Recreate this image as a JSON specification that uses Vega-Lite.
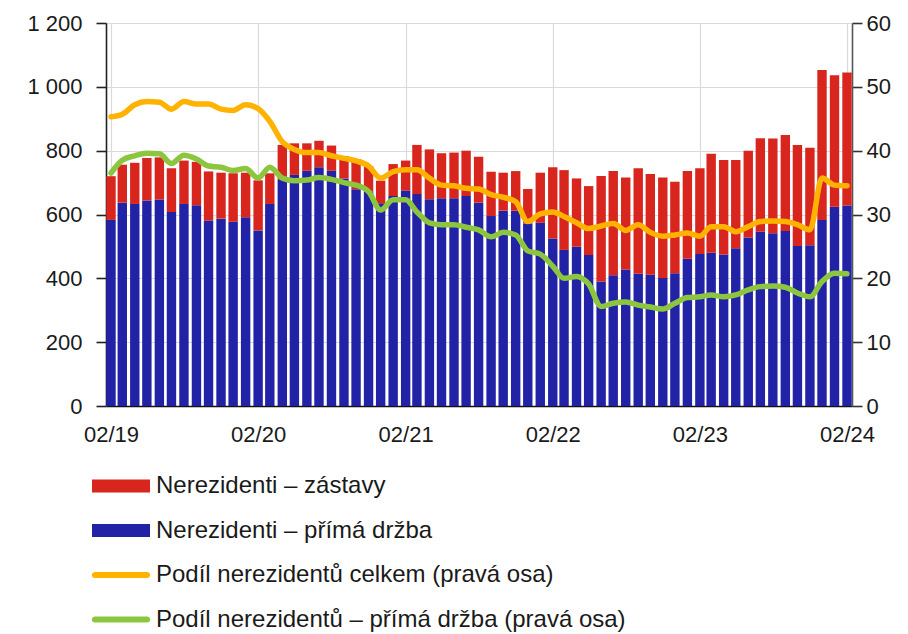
{
  "$schema": "https://vega.github.io/schema/vega-lite/v6.json",
  "width": 746,
  "height": 383,
  "autosize": {"type": "none"},
  "padding": {"left": 106, "top": 23, "right": 56, "bottom": 228},
  "background": "white",
  "config": {
    "view": {"stroke": null},
    "font": "Liberation Sans",
    "axis": {"labelFont": "Liberation Sans", "labelFontSize": 22, "labelColor": "#1a1a1a", "gridColor": "#dadada", "gridWidth": 1.2, "title": null}
  },
  "data": {"values": [
    {"d": "2019-02-01", "prima": 583, "celkem": 720, "podil_celkem": 45.3, "podil_prima": 36.5},
    {"d": "2019-03-01", "prima": 637, "celkem": 756, "podil_celkem": 45.7, "podil_prima": 38.5},
    {"d": "2019-04-01", "prima": 633, "celkem": 762, "podil_celkem": 47.2, "podil_prima": 39.2},
    {"d": "2019-05-01", "prima": 644, "celkem": 777, "podil_celkem": 47.7, "podil_prima": 39.6},
    {"d": "2019-06-01", "prima": 647, "celkem": 779, "podil_celkem": 47.6, "podil_prima": 39.5},
    {"d": "2019-07-01", "prima": 608, "celkem": 745, "podil_celkem": 46.5, "podil_prima": 38.0},
    {"d": "2019-08-01", "prima": 633, "celkem": 769, "podil_celkem": 47.7, "podil_prima": 39.3},
    {"d": "2019-09-01", "prima": 629, "celkem": 765, "podil_celkem": 47.3, "podil_prima": 38.7},
    {"d": "2019-10-01", "prima": 581, "celkem": 735, "podil_celkem": 47.3, "podil_prima": 37.6},
    {"d": "2019-11-01", "prima": 587, "celkem": 731, "podil_celkem": 46.5, "podil_prima": 37.4},
    {"d": "2019-12-01", "prima": 577, "celkem": 729, "podil_celkem": 46.3, "podil_prima": 36.9},
    {"d": "2020-01-01", "prima": 591, "celkem": 731, "podil_celkem": 47.2, "podil_prima": 37.2},
    {"d": "2020-02-01", "prima": 550, "celkem": 707, "podil_celkem": 46.6, "podil_prima": 35.7},
    {"d": "2020-03-01", "prima": 633, "celkem": 729, "podil_celkem": 44.6, "podil_prima": 37.4},
    {"d": "2020-04-01", "prima": 708, "celkem": 818, "podil_celkem": 41.4, "podil_prima": 35.7},
    {"d": "2020-05-01", "prima": 724, "celkem": 823, "podil_celkem": 40.2, "podil_prima": 35.3},
    {"d": "2020-06-01", "prima": 737, "celkem": 823, "podil_celkem": 39.7, "podil_prima": 35.4},
    {"d": "2020-07-01", "prima": 748, "celkem": 831, "podil_celkem": 39.7, "podil_prima": 35.8},
    {"d": "2020-08-01", "prima": 737, "celkem": 816, "podil_celkem": 39.2, "podil_prima": 35.5},
    {"d": "2020-09-01", "prima": 713, "celkem": 783, "podil_celkem": 38.8, "podil_prima": 35.0},
    {"d": "2020-10-01", "prima": 679, "celkem": 774, "podil_celkem": 38.4, "podil_prima": 34.6},
    {"d": "2020-11-01", "prima": 671, "celkem": 752, "podil_celkem": 37.6, "podil_prima": 33.6},
    {"d": "2020-12-01", "prima": 635, "celkem": 706, "podil_celkem": 35.7, "podil_prima": 30.7},
    {"d": "2021-01-01", "prima": 658, "celkem": 758, "podil_celkem": 36.7, "podil_prima": 32.3},
    {"d": "2021-02-01", "prima": 675, "celkem": 769, "podil_celkem": 37.0, "podil_prima": 32.3},
    {"d": "2021-03-01", "prima": 664, "celkem": 818, "podil_celkem": 37.0, "podil_prima": 30.4},
    {"d": "2021-04-01", "prima": 648, "celkem": 804, "podil_celkem": 35.7, "podil_prima": 28.7},
    {"d": "2021-05-01", "prima": 651, "celkem": 792, "podil_celkem": 34.6, "podil_prima": 28.4},
    {"d": "2021-06-01", "prima": 651, "celkem": 794, "podil_celkem": 34.5, "podil_prima": 28.4},
    {"d": "2021-07-01", "prima": 658, "celkem": 800, "podil_celkem": 34.1, "podil_prima": 28.0},
    {"d": "2021-08-01", "prima": 637, "celkem": 781, "podil_celkem": 34.0, "podil_prima": 27.6},
    {"d": "2021-09-01", "prima": 595, "celkem": 734, "podil_celkem": 33.1, "podil_prima": 26.5},
    {"d": "2021-10-01", "prima": 612, "celkem": 731, "podil_celkem": 32.7, "podil_prima": 27.2},
    {"d": "2021-11-01", "prima": 612, "celkem": 736, "podil_celkem": 32.0, "podil_prima": 26.8},
    {"d": "2021-12-01", "prima": 572, "celkem": 680, "podil_celkem": 28.9, "podil_prima": 24.3},
    {"d": "2022-01-01", "prima": 574, "celkem": 731, "podil_celkem": 30.1, "podil_prima": 23.8},
    {"d": "2022-02-01", "prima": 525, "celkem": 748, "podil_celkem": 30.4, "podil_prima": 21.9},
    {"d": "2022-03-01", "prima": 489, "celkem": 739, "podil_celkem": 29.7, "podil_prima": 20.0},
    {"d": "2022-04-01", "prima": 499, "celkem": 713, "podil_celkem": 28.7, "podil_prima": 20.3},
    {"d": "2022-05-01", "prima": 473, "celkem": 689, "podil_celkem": 27.8, "podil_prima": 19.1},
    {"d": "2022-06-01", "prima": 390, "celkem": 721, "podil_celkem": 28.2, "podil_prima": 15.6},
    {"d": "2022-07-01", "prima": 410, "celkem": 736, "podil_celkem": 28.6, "podil_prima": 16.1},
    {"d": "2022-08-01", "prima": 428, "celkem": 716, "podil_celkem": 27.5, "podil_prima": 16.3},
    {"d": "2022-09-01", "prima": 414, "celkem": 745, "podil_celkem": 28.4, "podil_prima": 15.8},
    {"d": "2022-10-01", "prima": 411, "celkem": 727, "podil_celkem": 27.2, "podil_prima": 15.5},
    {"d": "2022-11-01", "prima": 401, "celkem": 716, "podil_celkem": 26.6, "podil_prima": 15.2},
    {"d": "2022-12-01", "prima": 416, "celkem": 703, "podil_celkem": 26.8, "podil_prima": 16.1},
    {"d": "2023-01-01", "prima": 461, "celkem": 736, "podil_celkem": 27.1, "podil_prima": 17.0},
    {"d": "2023-02-01", "prima": 476, "celkem": 745, "podil_celkem": 26.6, "podil_prima": 17.1},
    {"d": "2023-03-01", "prima": 480, "celkem": 790, "podil_celkem": 28.1, "podil_prima": 17.4},
    {"d": "2023-04-01", "prima": 475, "celkem": 771, "podil_celkem": 28.1, "podil_prima": 17.1},
    {"d": "2023-05-01", "prima": 494, "celkem": 771, "podil_celkem": 27.3, "podil_prima": 17.4},
    {"d": "2023-06-01", "prima": 528, "celkem": 800, "podil_celkem": 28.1, "podil_prima": 18.2},
    {"d": "2023-07-01", "prima": 546, "celkem": 839, "podil_celkem": 28.9, "podil_prima": 18.7},
    {"d": "2023-08-01", "prima": 541, "celkem": 838, "podil_celkem": 29.0, "podil_prima": 18.8},
    {"d": "2023-09-01", "prima": 548, "celkem": 849, "podil_celkem": 28.9, "podil_prima": 18.6},
    {"d": "2023-10-01", "prima": 501, "celkem": 818, "podil_celkem": 28.4, "podil_prima": 17.7},
    {"d": "2023-11-01", "prima": 504, "celkem": 809, "podil_celkem": 27.6, "podil_prima": 17.1},
    {"d": "2023-12-01", "prima": 583, "celkem": 1053, "podil_celkem": 35.7, "podil_prima": 19.5},
    {"d": "2024-01-01", "prima": 624, "celkem": 1036, "podil_celkem": 34.6, "podil_prima": 20.8},
    {"d": "2024-02-01", "prima": 628, "celkem": 1045, "podil_celkem": 34.5, "podil_prima": 20.7}
  ]},
  "encoding": {
    "x": {
      "field": "d", "type": "temporal",
      "scale": {"type": "utc", "domain": [{"year": 2019, "month": 2, "date": 1, "utc": true}, {"year": 2024, "month": 2, "date": 1, "utc": true}]},
      "axis": {
        "values": [
          {"year": 2019, "month": 2, "date": 1, "utc": true},
          {"year": 2020, "month": 2, "date": 1, "utc": true},
          {"year": 2021, "month": 2, "date": 1, "utc": true},
          {"year": 2022, "month": 2, "date": 1, "utc": true},
          {"year": 2023, "month": 2, "date": 1, "utc": true},
          {"year": 2024, "month": 2, "date": 1, "utc": true}
        ],
        "labelExpr": "utcFormat(datum.value, '%m/%y')",
        "labelFlush": false, "labelOverlap": false, "labelBound": false,
        "ticks": false, "labelPadding": 18,
        "domainColor": "#111111", "domainWidth": 1.6,
        "grid": true, "zindex": 0
      }
    }
  },
  "layer": [
    {
      "layer": [
        {
          "mark": {"type": "bar", "size": 9.4, "clip": true},
          "encoding": {
            "y": {
              "field": "prima", "type": "quantitative",
              "scale": {"domain": [0, 1200], "nice": false},
              "axis": {
                "orient": "left", "values": [0, 200, 400, 600, 800, 1000, 1200],
                "labelExpr": "replace(format(datum.value, ','), ',', ' ')",
                "grid": true, "domainColor": "#222222", "domainWidth": 1.6,
                "tickColor": "#222222", "tickWidth": 1.6, "tickSize": 10, "labelPadding": 14,
                "zindex": 0
              }
            },
            "color": {
              "datum": "Nerezidenti – přímá držba",
              "scale": {
                "domain": ["Nerezidenti – zástavy", "Nerezidenti – přímá držba", "Podíl nerezidentů celkem (pravá osa)", "Podíl nerezidentů – přímá držba (pravá osa)"],
                "range": ["#d8261e", "#2222a6", "#ffb200", "#8cc63f"]
              },
              "legend": {
                "title": null, "orient": "none", "legendX": -14, "legendY": 434,
                "direction": "vertical", "padding": 0,
                "labelFont": "Liberation Sans", "labelFontSize": 24, "labelColor": "#1a1a1a",
                "labelLimit": 700, "labelOffset": 6,
                "symbolSize": 3364, "symbolStrokeWidth": 0, "rowPadding": 3.5,
                "encode": {
                  "symbols": {
                    "update": {
                      "shape": {"signal": "indexof(datum.value, 'Nerezidenti') == 0 ? 'M-1,-0.22H1V0.22H-1Z' : 'M-0.9,-0.105H0.9A0.105,0.105 0 0 1 0.9,0.105H-0.9A0.105,0.105 0 0 1 -0.9,-0.105Z'"},
                      "strokeWidth": {"value": 0},
                      "opacity": {"value": 1}
                    }
                  }
                }
              }
            }
          }
        },
        {
          "mark": {"type": "bar", "size": 9.4, "clip": true},
          "encoding": {
            "y": {"field": "celkem", "type": "quantitative"},
            "y2": {"field": "prima"},
            "color": {"datum": "Nerezidenti – zástavy"}
          }
        }
      ]
    },
    {
      "layer": [
        {
          "mark": {"type": "line", "strokeWidth": 5.5, "strokeCap": "round", "strokeJoin": "round", "interpolate": "monotone"},
          "encoding": {
            "y": {
              "field": "podil_celkem", "type": "quantitative",
              "scale": {"domain": [0, 60], "nice": false},
              "axis": {
                "orient": "right", "values": [0, 10, 20, 30, 40, 50, 60],
                "grid": false, "domainColor": "#555555", "domainWidth": 1.6,
                "tickColor": "#333333", "tickWidth": 1.6, "tickSize": 10, "labelPadding": 4
              }
            },
            "stroke": {"datum": "celkem", "scale": {"domain": ["celkem", "prima"], "range": ["#ffb200", "#8cc63f"]}, "legend": null}
          }
        },
        {
          "mark": {"type": "line", "strokeWidth": 5.5, "strokeCap": "round", "strokeJoin": "round", "interpolate": "monotone"},
          "encoding": {
            "y": {"field": "podil_prima", "type": "quantitative"},
            "stroke": {"datum": "prima"}
          }
        }
      ]
    }
  ],
  "resolve": {"scale": {"y": "independent"}, "axis": {"y": "independent"}}
}
